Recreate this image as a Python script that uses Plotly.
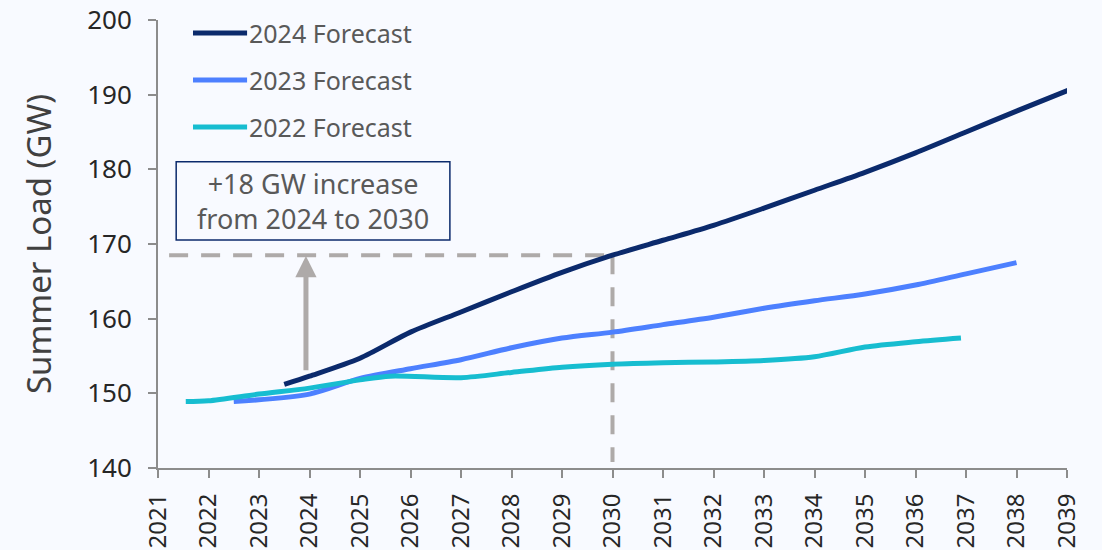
import plotly.graph_objects as go

# Summer peak load forecasts (GW) by forecast vintage
years_2024 = [2023.5, 2024, 2025, 2026, 2027, 2028, 2029, 2030, 2031, 2032,
              2033, 2034, 2035, 2036, 2037, 2038, 2039.1]
load_2024 = [151.2, 152.3, 154.7, 158.2, 160.9, 163.6, 166.2, 168.5, 170.5,
             172.5, 174.8, 177.2, 179.6, 182.2, 185.0, 187.8, 190.8]

years_2023 = [2022.5, 2024, 2025, 2026, 2027, 2028, 2029, 2030, 2031, 2032,
              2033, 2034, 2035, 2036, 2037, 2038]
load_2023 = [148.9, 149.9, 152.0, 153.3, 154.5, 156.1, 157.4, 158.2, 159.2,
             160.2, 161.4, 162.4, 163.3, 164.5, 166.0, 167.5]

years_2022 = [2021.55, 2022, 2023, 2024, 2025, 2025.6, 2027, 2028, 2029, 2030,
              2031, 2032, 2033, 2034, 2035, 2036, 2036.9]
load_2022 = [148.9, 149.0, 149.9, 150.7, 151.8, 152.3, 152.1, 152.8, 153.5,
             153.9, 154.1, 154.2, 154.4, 154.9, 156.2, 156.9, 157.4]

tick_years = list(range(2021, 2040))
tick_labels = [str(y) for y in tick_years]

series = [
    ("2024 Forecast", years_2024, load_2024, "#0b2a6c"),
    ("2023 Forecast", years_2023, load_2023, "#4d80ff"),
    ("2022 Forecast", years_2022, load_2022, "#17bdd0"),
]

# highlighted 2030 value of the 2024 forecast and the arrow start
mark_year = 2030
mark_load = 168.5
arrow_year = 2023.93
arrow_from = 152.9

GRAY = "#aeaaa9"
FONT = "Noto Sans"

fig = go.Figure()

# reference lines drawn under the series
fig.add_shape(type="line", xref="x", yref="y", x0=2021.22, x1=mark_year,
              y0=mark_load, y1=mark_load,
              line=dict(color=GRAY, width=4, dash="19px,13px"), layer="below")
fig.add_shape(type="line", xref="x", yref="y", x0=mark_year, x1=mark_year,
              y0=mark_load, y1=140.8,
              line=dict(color=GRAY, width=4, dash="19px,13px"), layer="below")

for name, xs, ys, color in series:
    fig.add_trace(go.Scatter(
        x=xs, y=ys, name=name, mode="lines",
        line=dict(color=color, width=5, shape="spline", smoothing=0.8),
        showlegend=False,
    ))

# legend drawn as line samples with labels
legend_rows = [0.971, 0.866, 0.761]
for (name, _, _, color), ly in zip(series, legend_rows):
    fig.add_shape(type="line", xref="paper", yref="paper",
                  x0=0.0385, x1=0.098, y0=ly, y1=ly,
                  line=dict(color=color, width=5))
    fig.add_annotation(xref="paper", yref="paper", x=0.098, y=ly,
                       text=name, showarrow=False, xanchor="left",
                       yanchor="middle",
                       font=dict(family=FONT, size=25, color="#595959"))

# callout box
fig.add_shape(type="rect", xref="x", yref="y", x0=2021.36, x1=2026.78,
              y0=170.55, y1=181.0,
              line=dict(color="#0b2a6c", width=1.5), fillcolor="rgba(0,0,0,0)")
fig.add_annotation(xref="x", yref="y", x=2024.07, y=175.8,
                   text="+18 GW increase<br>from 2024 to 2030",
                   showarrow=False, xanchor="center", yanchor="middle",
                   font=dict(family=FONT, size=27, color="#595959"))

# arrow showing the increase
fig.add_annotation(xref="x", yref="y", x=arrow_year, y=mark_load - 0.1,
                   axref="x", ayref="y", ax=arrow_year, ay=arrow_from,
                   text="", showarrow=True, arrowhead=2, arrowsize=0.85,
                   arrowwidth=5, arrowcolor=GRAY, standoff=0, startstandoff=0)

fig.update_layout(
    width=1102, height=550,
    margin=dict(l=158, r=35, t=20, b=82),
    paper_bgcolor="#f8faff", plot_bgcolor="#f8faff",
    font=dict(family=FONT, color="#262626"),
    xaxis=dict(
        range=[2021, 2039], tickmode="array", tickvals=tick_years,
        ticktext=tick_labels, tickangle=-90, automargin=False,
        tickfont=dict(family=FONT, size=24, color="#262626"),
        ticklabelstandoff=6,
        showgrid=False, zeroline=False, showline=True,
        linecolor="#8c8c8c", linewidth=2,
        ticks="outside", ticklen=8, tickwidth=2, tickcolor="#8c8c8c",
    ),
    yaxis=dict(
        range=[140, 200], tickmode="array", automargin=False,
        tickvals=[140, 150, 160, 170, 180, 190, 200],
        tickfont=dict(family=FONT, size=26, color="#262626"),
        ticklabelstandoff=11,
        showgrid=False, zeroline=False, showline=True,
        linecolor="#8c8c8c", linewidth=2,
        ticks="outside", ticklen=8, tickwidth=2, tickcolor="#8c8c8c",
        title=dict(text="Summer Load (GW)", standoff=26,
                   font=dict(family=FONT, size=33, color="#404040")),
    ),
)

fig.write_html("out.html")
